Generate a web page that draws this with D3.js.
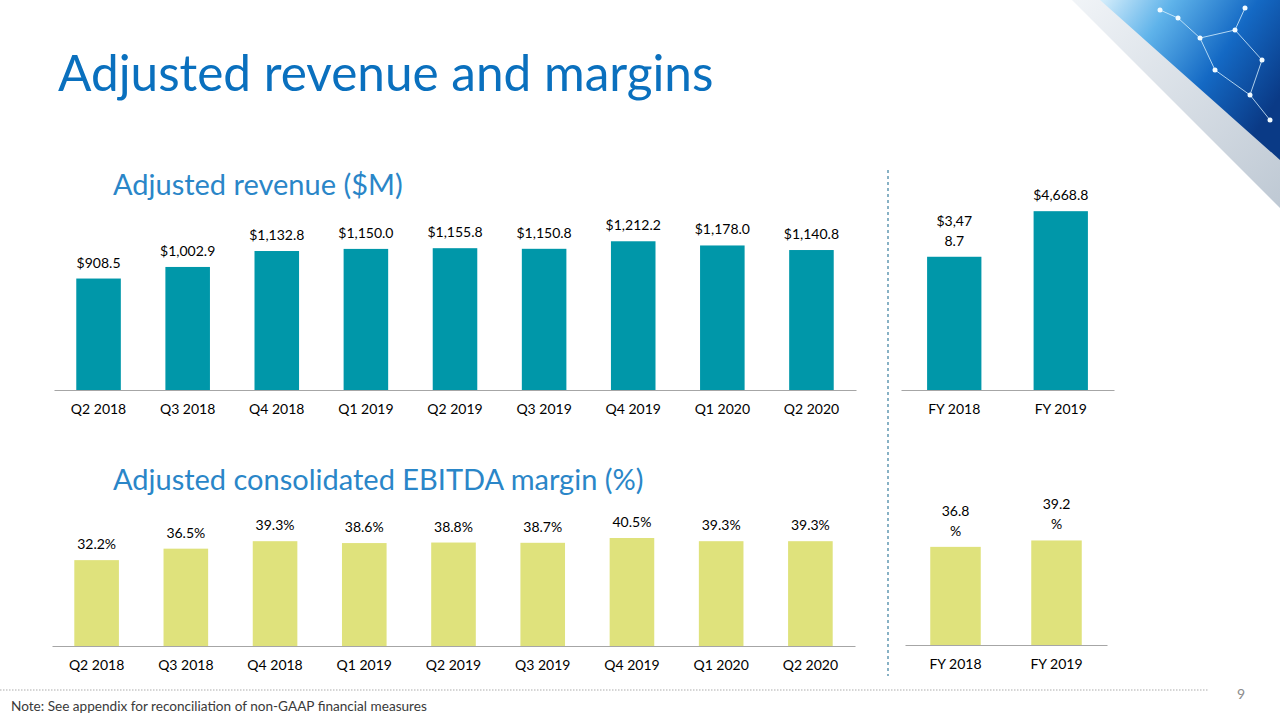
<!DOCTYPE html>
<html>
<head>
<meta charset="utf-8">
<script src="https://cdn.jsdelivr.net/npm/d3@7"></script>
<style>
  html, body { margin: 0; padding: 0; background: #fff; }
  svg { display: block; font-family: Lato, 'Open Sans', sans-serif; }
</style>
</head>
<body>
<svg id="chart" width="1280" height="720"></svg>
<script>
// Chart data
const quarters = ['Q2 2018', 'Q3 2018', 'Q4 2018', 'Q1 2019', 'Q2 2019', 'Q3 2019', 'Q4 2019', 'Q1 2020', 'Q2 2020']
const quarterlyRevenue = [908.5, 1002.9, 1132.8, 1150.0, 1155.8, 1150.8, 1212.2, 1178.0, 1140.8]
const quarterlyMargin = [32.2, 36.5, 39.3, 38.6, 38.8, 38.7, 40.5, 39.3, 39.3]
const years = ['FY 2018', 'FY 2019']
const annualRevenue = [3478.7, 4668.8]
const annualMargin = [36.8, 39.2]
// labels as they wrap on the slide
const annualRevenueLabels = [['$3,47', '8.7'], ['$4,668.8']]
const annualMarginLabels = [['36.8', '%'], ['39.2', '%']]

const teal = '#0097a9'
const lime = '#dfe27c'
const axisGrey = '#a6a6a6'

const svg = d3.select('#chart')

// top-right decoration
const defs = svg.append('defs')
const gBlue = defs.append('linearGradient').attr('id', 'gBlue')
  .attr('x1', '0%').attr('y1', '0%').attr('x2', '100%').attr('y2', '60%')
gBlue.append('stop').attr('offset', '0%').attr('stop-color', '#d6eefb')
gBlue.append('stop').attr('offset', '30%').attr('stop-color', '#5fb3ea')
gBlue.append('stop').attr('offset', '65%').attr('stop-color', '#1469c4')
gBlue.append('stop').attr('offset', '100%').attr('stop-color', '#0a3a86')
const gSilver = defs.append('linearGradient').attr('id', 'gSilver')
  .attr('x1', '0%').attr('y1', '0%').attr('x2', '100%').attr('y2', '100%')
gSilver.append('stop').attr('offset', '0%').attr('stop-color', '#eef2f6')
gSilver.append('stop').attr('offset', '100%').attr('stop-color', '#b3bfcc')

const deco = svg.append('g')
deco.append('path').attr('d', 'M1072,0 L1280,0 L1280,208 Z').attr('fill', 'url(#gSilver)').attr('opacity', 0.85)
deco.append('path').attr('d', 'M1100,0 L1280,0 L1280,160 Z').attr('fill', 'url(#gBlue)')
const nodes = [[1178, 18], [1200, 38], [1235, 30], [1262, 60], [1215, 70], [1250, 95], [1270, 120], [1160, 10], [1245, 8]]
const links = [[0, 1], [1, 2], [2, 3], [1, 4], [4, 5], [3, 5], [5, 6], [7, 0], [2, 8]]
deco.selectAll('line.link').data(links).join('line')
  .attr('class', 'link')
  .attr('x1', d => nodes[d[0]][0]).attr('y1', d => nodes[d[0]][1])
  .attr('x2', d => nodes[d[1]][0]).attr('y2', d => nodes[d[1]][1])
  .attr('stroke', '#d8f1ff').attr('stroke-width', 1).attr('opacity', 0.8)
deco.selectAll('circle.node').data(nodes).join('circle')
  .attr('class', 'node')
  .attr('cx', d => d[0]).attr('cy', d => d[1]).attr('r', 2.5)
  .attr('fill', '#f2fbff')

// titles
svg.append('text')
  .attr('x', 58).attr('y', 91)
  .attr('fill', '#0a70be')
  .style('font-size', '49.5px')
  .text('Adjusted revenue and margins')

svg.append('text')
  .attr('x', 113).attr('y', 195)
  .attr('fill', '#2a86c8')
  .style('font-size', '29px')
  .text('Adjusted revenue ($M)')

svg.append('text')
  .attr('x', 113).attr('y', 490)
  .attr('fill', '#2a86c8')
  .style('font-size', '29px')
  .text('Adjusted consolidated EBITDA margin (%)')

// one bar panel
function barPanel({ cats, values, labels, xRange, baseY, yMax, pxHeight, padding, color }) {
  const x = d3.scaleBand().domain(cats).range(xRange)
    .paddingInner(padding).paddingOuter(padding / 2)
  const y = d3.scaleLinear().domain([0, yMax]).range([baseY, baseY - pxHeight])
  const rows = cats.map((c, i) => ({ cat: c, value: values[i], label: labels[i] }))

  const g = svg.append('g')

  g.selectAll('rect')
    .data(rows)
    .join('rect')
    .attr('x', d => x(d.cat))
    .attr('width', x.bandwidth())
    .attr('y', d => y(d.value))
    .attr('height', d => baseY - y(d.value))
    .attr('fill', color)

  const axis = g.append('g')
    .attr('transform', `translate(0,${baseY})`)
    .call(d3.axisBottom(x).tickSize(0).tickPadding(14))
  axis.select('.domain').attr('stroke', axisGrey).attr('stroke-width', 1.2)
  axis.selectAll('text')
    .style('font-family', 'Lato, sans-serif')
    .style('font-size', '14px')
    .attr('fill', '#000')

  const lab = g.selectAll('text.value')
    .data(rows)
    .join('text')
    .attr('class', 'value')
    .attr('text-anchor', 'middle')
    .attr('fill', '#000')
    .style('font-size', '14px')
  lab.each(function (d) {
    const lines = d.label
    const n = lines.length
    d3.select(this).selectAll('tspan')
      .data(lines)
      .join('tspan')
      .attr('x', x(d.cat) + x.bandwidth() / 2)
      .attr('y', (l, i) => y(d.value) - 11 - (n - 1 - i) * 20)
      .text(l => l)
  })
}

const fmtMoney = v => '$' + d3.format(',.1f')(v)
const fmtPct = v => d3.format('.1f')(v) + '%'

barPanel({
  cats: quarters, values: quarterlyRevenue, labels: quarterlyRevenue.map(v => [fmtMoney(v)]),
  xRange: [54, 856], baseY: 390, yMax: 1300, pxHeight: 159.5, padding: 0.5, color: teal
})
barPanel({
  cats: years, values: annualRevenue, labels: annualRevenueLabels,
  xRange: [901, 1114], baseY: 390, yMax: 5000, pxHeight: 191.5, padding: 0.49, color: teal
})
barPanel({
  cats: quarters, values: quarterlyMargin, labels: quarterlyMargin.map(v => [fmtPct(v)]),
  xRange: [52, 855], baseY: 646, yMax: 45, pxHeight: 120, padding: 0.5, color: lime
})
barPanel({
  cats: years, values: annualMargin, labels: annualMarginLabels,
  xRange: [905, 1107], baseY: 645, yMax: 45, pxHeight: 120, padding: 0.5, color: lime
})

// divider between quarterly and annual panels
svg.append('line')
  .attr('x1', 888).attr('x2', 888).attr('y1', 170).attr('y2', 676)
  .attr('stroke', '#3a7f9f').attr('stroke-width', 1.2)
  .attr('stroke-dasharray', '3,3')

// footer
svg.append('line')
  .attr('x1', 0).attr('x2', 1208).attr('y1', 690).attr('y2', 690)
  .attr('stroke', '#c8c8c8').attr('stroke-width', 1.5)
  .attr('stroke-dasharray', '1.5,1.5')

svg.append('text')
  .attr('x', 11).attr('y', 711)
  .attr('fill', '#3a3a3a')
  .style('font-size', '13.6px')
  .text('Note: See appendix for reconciliation of non-GAAP financial measures')

svg.append('text')
  .attr('x', 1237).attr('y', 699)
  .attr('fill', '#8c8c8c')
  .style('font-size', '14px')
  .text('9')
</script>
</body>
</html>
